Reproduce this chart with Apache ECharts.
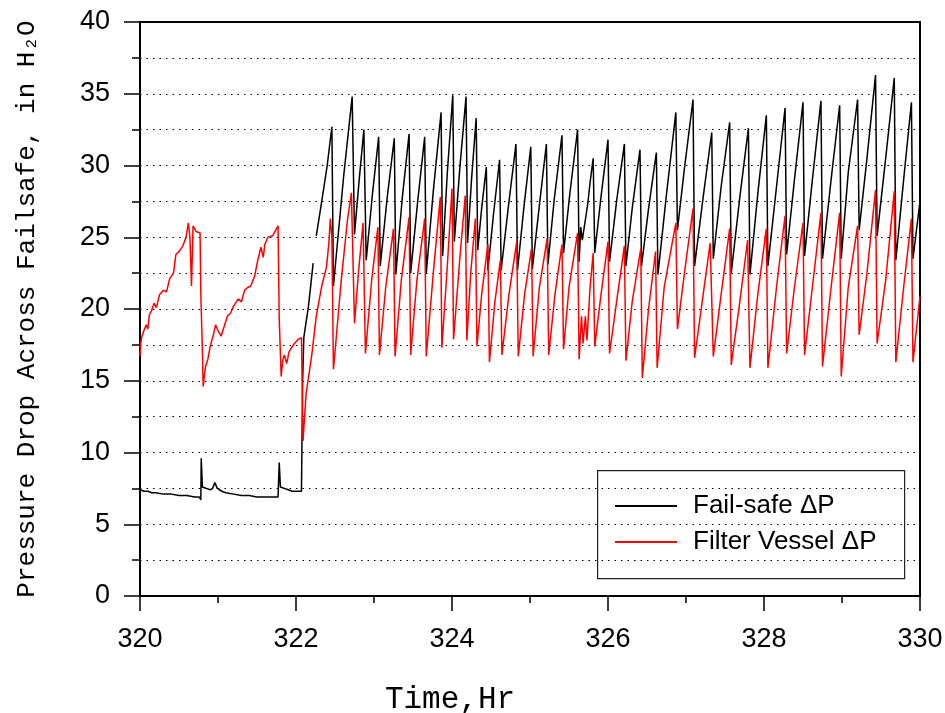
<!DOCTYPE html>
<html>
<head>
<meta charset="utf-8">
<script src="https://cdn.jsdelivr.net/npm/echarts@6/dist/echarts.min.js"></script>
<style>
html,body{margin:0;padding:0;background:#fff;}
#chart{width:945px;height:713px;}
</style>
</head>
<body>
<div id="chart"></div>
<script>
// Time (hr) and pressure drop (in H2O)
const xTicks = [320, 322, 324, 326, 328, 330];
const yTicks = [0, 5, 10, 15, 20, 25, 30, 35, 40];
const seriesNames = ['Fail-safe ΔP', 'Filter Vessel ΔP'];

const failsafe = [
[320.00,7.4],[320.05,7.3],[320.10,7.3],[320.15,7.2],[320.20,7.2],[320.30,7.1],[320.40,7.1],[320.50,7.0],[320.60,7.0],[320.70,6.9],[320.76,6.9],[320.78,6.7],[320.785,9.6],[320.80,7.6],[320.85,7.5],[320.90,7.4],[320.93,7.5],[320.96,7.9],[320.99,7.5],[321.05,7.3],[321.10,7.2],[321.20,7.1],[321.30,7.0],[321.40,7.0],[321.50,6.9],[321.60,6.9],[321.70,6.9],[321.77,6.9],[321.785,9.3],[321.80,7.6],[321.85,7.5],[321.90,7.4],[321.95,7.3],[322.00,7.3],[322.07,7.3],[322.085,15.0],[322.10,18.0],[322.16,20.2],[322.22,23.2],[322.24,null],
[322.26,25.1],[322.33,27.5],[322.40,30.0],[322.46,32.7],[322.48,21.6],[322.61,29.2],[322.72,34.8],[322.75,25.2],[322.81,29.0],[322.87,32.5],[322.90,23.4],[322.98,28.0],[323.06,32.0],[323.08,23.0],[323.17,27.8],[323.26,31.9],[323.28,22.4],[323.36,27.6],[323.45,32.2],[323.47,22.5],[323.56,27.5],[323.65,32.0],[323.67,22.5],[323.76,28.2],[323.86,33.7],[323.88,23.7],[323.94,29.5],[324.01,34.9],[324.03,24.7],[324.10,29.8],[324.18,34.8],[324.20,24.6],[324.25,29.0],[324.31,33.3],[324.33,24.1],[324.38,27.0],[324.44,29.9],[324.46,22.7],[324.53,26.5],[324.61,30.4],[324.63,22.7],[324.72,27.0],[324.82,31.5],[324.84,22.7],[324.92,27.0],[325.01,31.3],[325.03,22.8],[325.12,27.2],[325.21,31.5],[325.23,23.1],[325.31,27.6],[325.41,32.1],[325.43,23.9],[325.51,28.0],[325.61,32.5],[325.63,23.3],[325.65,25.7],[325.67,24.8],[325.74,27.3],[325.77,28.8],[325.81,30.5],[325.83,23.9],[325.91,27.8],[326.00,31.8],[326.02,23.3],[326.11,27.5],[326.21,31.5],[326.23,23.0],[326.31,27.0],[326.41,31.1],[326.43,23.0],[326.52,27.0],[326.62,30.9],[326.64,22.4],[326.75,28.0],[326.87,33.7],[326.89,25.5],[326.98,29.8],[327.09,34.6],[327.11,23.0],[327.22,27.8],[327.33,32.3],[327.35,23.5],[327.45,28.5],[327.56,33.0],[327.58,22.5],[327.69,27.8],[327.80,32.6],[327.82,22.4],[327.92,28.0],[328.03,33.5],[328.05,23.0],[328.16,28.5],[328.27,34.0],[328.29,23.8],[328.39,29.0],[328.50,34.4],[328.52,23.7],[328.62,29.0],[328.73,34.5],[328.75,23.5],[328.86,29.0],[328.97,34.2],[328.99,23.5],[329.08,29.5],[329.20,34.6],[329.22,25.5],[329.32,30.5],[329.43,36.3],[329.45,25.1],[329.56,30.5],[329.67,36.1],[329.69,23.4],[329.79,29.0],[329.89,34.4],[329.91,23.5],[330.00,27.5]
];

const filterVessel = [
[320.00,16.7],[320.01,17.6],[320.02,18.0],[320.05,18.5],[320.08,18.9],[320.10,18.6],[320.12,19.6],[320.15,19.9],[320.18,20.4],[320.21,20.1],[320.25,21.0],[320.30,21.3],[320.34,21.2],[320.38,22.1],[320.43,22.5],[320.46,23.8],[320.50,24.0],[320.55,24.4],[320.59,25.0],[320.62,26.0],[320.64,25.0],[320.66,21.6],[320.68,25.8],[320.72,25.4],[320.77,25.3],[320.78,21.0],[320.80,17.1],[320.81,14.6],[320.84,16.0],[320.87,16.5],[320.90,17.4],[320.94,18.2],[320.97,18.9],[321.00,18.5],[321.04,18.1],[321.08,18.8],[321.12,19.5],[321.16,19.7],[321.20,20.2],[321.26,20.7],[321.30,20.5],[321.34,21.3],[321.38,21.5],[321.42,21.6],[321.47,22.3],[321.51,23.4],[321.55,24.3],[321.58,23.6],[321.60,24.5],[321.64,25.0],[321.70,25.1],[321.74,25.5],[321.77,25.8],[321.785,19.3],[321.81,15.3],[321.83,16.4],[321.85,16.8],[321.88,16.2],[321.91,17.0],[321.94,17.3],[321.98,17.6],[322.03,17.9],[322.07,18.0],[322.09,10.8],[322.11,12.5],[322.13,14.1],[322.17,15.6],[322.20,16.7],[322.26,19.5],[322.33,21.6],[322.39,22.9],[322.42,24.5],[322.44,26.3],[322.46,25.0],[322.48,15.8],[322.50,17.0],[322.58,22.0],[322.66,26.2],[322.71,28.1],[322.75,19.0],[322.80,22.5],[322.86,26.0],[322.89,16.9],[322.97,22.0],[323.05,25.7],[323.07,16.8],[323.15,21.5],[323.25,25.6],[323.27,16.7],[323.35,22.0],[323.45,26.4],[323.47,16.8],[323.55,22.0],[323.65,26.3],[323.67,16.7],[323.76,22.5],[323.85,27.8],[323.87,17.3],[323.94,23.0],[324.00,28.4],[324.02,17.9],[324.10,23.5],[324.17,27.9],[324.19,17.8],[324.24,22.5],[324.30,26.3],[324.32,17.4],[324.38,21.0],[324.46,24.5],[324.48,16.3],[324.55,20.5],[324.62,23.4],[324.64,16.8],[324.73,21.0],[324.83,24.7],[324.85,16.7],[324.93,21.0],[325.02,24.2],[325.04,16.7],[325.12,21.5],[325.22,24.9],[325.24,16.8],[325.32,21.0],[325.41,24.5],[325.43,17.2],[325.50,21.5],[325.61,25.3],[325.63,16.5],[325.66,19.5],[325.68,17.6],[325.71,19.5],[325.73,17.8],[325.77,21.5],[325.81,23.9],[325.83,17.4],[325.91,21.0],[326.00,24.7],[326.02,16.9],[326.11,20.5],[326.21,24.4],[326.23,16.4],[326.31,20.5],[326.42,24.2],[326.44,15.2],[326.52,20.0],[326.61,24.0],[326.63,15.9],[326.72,21.5],[326.87,26.0],[326.89,18.6],[326.98,22.5],[327.09,27.0],[327.11,16.6],[327.22,21.0],[327.31,24.6],[327.35,16.7],[327.45,21.0],[327.56,25.6],[327.58,16.1],[327.69,20.5],[327.79,24.8],[327.82,15.9],[327.92,21.0],[328.03,25.6],[328.05,15.9],[328.16,21.5],[328.27,26.5],[328.29,16.9],[328.39,21.5],[328.50,26.0],[328.52,16.8],[328.62,21.5],[328.73,26.7],[328.75,16.0],[328.86,21.5],[328.97,26.7],[328.99,15.3],[329.08,21.5],[329.20,25.8],[329.22,18.2],[329.32,22.5],[329.43,28.3],[329.45,17.6],[329.56,22.0],[329.67,28.2],[329.69,16.3],[329.79,21.5],[329.89,26.3],[329.91,16.3],[330.00,20.9]
];

const chart = echarts.init(document.getElementById('chart'), null, {renderer: 'canvas'});
const dotted = {color: '#000', width: 1, type: [1.5, 5]};
chart.setOption({
  animation: false,
  backgroundColor: '#fff',
  grid: {left: 140, right: 25, top: 22, bottom: 117, show: true, borderColor: '#000', borderWidth: 2,
         containLabel: false, outerBoundsMode: 'none'},
  xAxis: {
    type: 'value', min: xTicks[0], max: xTicks[xTicks.length - 1], interval: 2,
    name: 'Time,Hr', nameLocation: 'middle', nameGap: 88,
    nameTextStyle: {fontFamily: 'Liberation Mono', fontSize: 31, color: '#000', padding: [0, 160, 0, 0]},
    axisLine: {lineStyle: {color: '#000', width: 2}},
    axisTick: {length: 15, lineStyle: {color: '#000', width: 1.5}},
    minorTick: {show: true, splitNumber: 2, length: 7, lineStyle: {color: '#000', width: 1.5}},
    axisLabel: {fontFamily: 'Liberation Sans', fontSize: 27, color: '#000', margin: 30},
    splitLine: {show: false}
  },
  yAxis: {
    type: 'value', min: yTicks[0], max: yTicks[yTicks.length - 1], interval: 5,
    name: 'Pressure Drop Across Failsafe, in H₂O', nameLocation: 'middle', nameGap: 100,
    nameTextStyle: {fontFamily: 'Liberation Mono', fontSize: 26, color: '#000'},
    axisLine: {lineStyle: {color: '#000', width: 2}},
    axisTick: {length: 16, lineStyle: {color: '#000', width: 1.5}},
    minorTick: {show: true, splitNumber: 2, length: 8, lineStyle: {color: '#000', width: 1.5}},
    axisLabel: {fontFamily: 'Liberation Sans', fontSize: 27, color: '#000', margin: 30},
    splitLine: {show: true, lineStyle: dotted},
    minorSplitLine: {show: true, lineStyle: dotted}
  },
  legend: {
    data: seriesNames, orient: 'vertical', left: 615, top: 493, padding: 0,
    itemWidth: 62, itemHeight: 2, icon: 'rect', itemGap: 10,
    textStyle: {fontFamily: 'Liberation Sans', fontSize: 26, lineHeight: 26, color: '#000', padding: [0, 0, 0, 11]}
  },
  graphic: [{
    type: 'rect', left: 597, top: 470, z: 10, silent: true,
    shape: {width: 307, height: 108},
    style: {fill: 'rgba(0,0,0,0)', stroke: '#222', lineWidth: 1.2}
  }],
  series: [
    {name: seriesNames[0], type: 'line', data: failsafe, showSymbol: false, symbol: 'none',
     lineStyle: {color: '#000', width: 1.5}, itemStyle: {color: '#000'}, connectNulls: false},
    {name: seriesNames[1], type: 'line', data: filterVessel, showSymbol: false, symbol: 'none',
     lineStyle: {color: '#ff0000', width: 1.5}, itemStyle: {color: '#ff0000'}}
  ]
});
</script>
</body>
</html>
